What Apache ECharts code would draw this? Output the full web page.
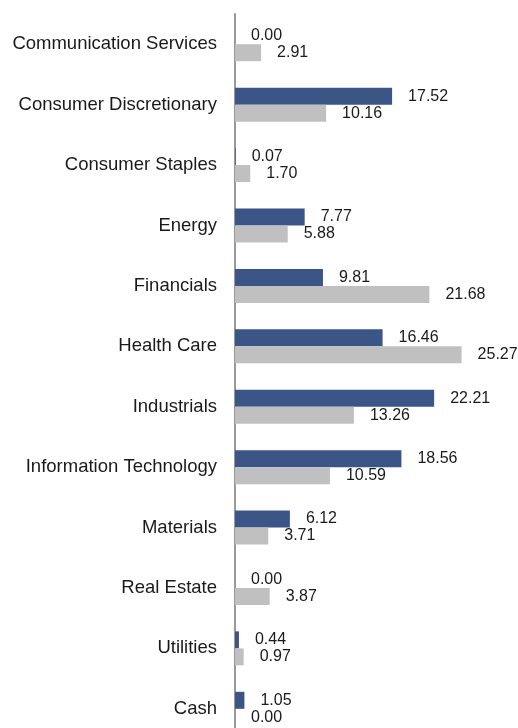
<!DOCTYPE html>
<html>
<head>
<meta charset="utf-8">
<script src="https://cdn.jsdelivr.net/npm/echarts@6/dist/echarts.min.js"></script>
<style>html,body{margin:0;padding:0;background:#fff}#c{width:518px;height:728px}</style>
</head>
<body>
<div id="c"></div>
<script>
const categories = ["Communication Services","Consumer Discretionary","Consumer Staples","Energy","Financials","Health Care","Industrials","Information Technology","Materials","Real Estate","Utilities","Cash"];
const seriesA = [0.00,17.52,0.07,7.77,9.81,16.46,22.21,18.56,6.12,0.00,0.44,1.05];
const seriesB = [2.91,10.16,1.70,5.88,21.68,25.27,13.26,10.59,3.71,3.87,0.97,0.00];

const chart = echarts.init(document.getElementById('c'));
const lbl = {show:true, position:'right', distance:16, color:'#1a1a1a', fontFamily:'Liberation Sans, Arial, sans-serif', fontSize:16, formatter: p => p.value.toFixed(2)};
chart.setOption({
  animation:false,
  grid:{left:235, top:14, width:269, height:725, outerBoundsMode:'none', containLabel:false},
  xAxis:{type:'value', min:0, max:30, show:false},
  yAxis:{type:'category', data:categories, inverse:true,
    axisLine:{show:true, lineStyle:{color:'#999', width:2}},
    axisTick:{show:false},
    axisLabel:{margin:18, color:'#1a1a1a', fontFamily:'Liberation Sans, Arial, sans-serif', fontSize:18.5}},
  series:[
    {type:'bar', data:seriesA, barWidth:17, barGap:'0%', itemStyle:{color:'#3b5587'}, label:lbl},
    {type:'bar', data:seriesB, barWidth:17, barGap:'0%', itemStyle:{color:'#c0c0c0'}, label:lbl}
  ]
});
</script>
</body>
</html>
